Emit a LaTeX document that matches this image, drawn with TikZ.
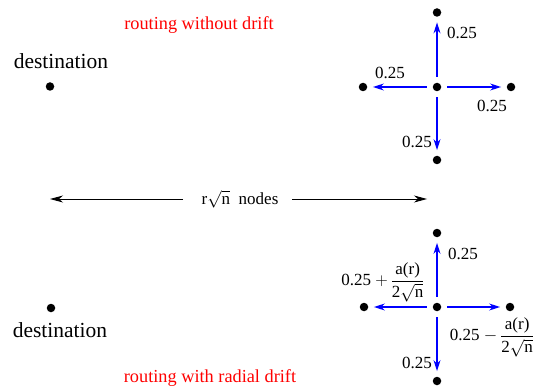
\documentclass[tikz,border=0pt]{standalone}
\usepackage{amsmath}
\usepackage{fontspec}
\setmainfont{Liberation Serif}
\usetikzlibrary{arrows.meta}
\begin{document}
\begin{tikzpicture}[x=1pt,y=-1pt,
  dot/.style={circle,fill=black,inner sep=0pt,minimum size=8.5pt},
  blarrow/.style={draw=blue,line width=1.1pt,-{Stealth[length=11pt,width=7pt,inset=3.5pt]},shorten <=6pt,shorten >=5.5pt},
  bkarrow/.style={draw=black,line width=0.9pt,-{Stealth[length=13pt,width=7pt,inset=4pt]}},
  lbl/.style={inner sep=0pt,font=\fontsize{17}{20}\selectfont},
  dest/.style={inner sep=0pt,font=\fontsize{21.5}{24}\selectfont},
  title/.style={inner sep=0pt,text=red,font=\fontsize{18.3}{20}\selectfont}]
\useasboundingbox (0,0) rectangle (537,387);
% top cluster
\node[dot] (c1) at (437,87) {};
\node[dot] (t1) at (437,12.5) {};
\node[dot] (b1) at (437,160) {};
\node[dot] (l1) at (363,87) {};
\node[dot] (r1) at (511,87) {};
\draw[blarrow] (c1) -- (t1);
\draw[blarrow] (c1) -- (b1);
\draw[blarrow] (c1) -- (l1);
\draw[blarrow] (c1) -- (r1);
\node[lbl] (lt1) at (462,33) {0.25};
\node[lbl] (ll1) at (390,73) {0.25};
\node[lbl] (lr1) at (492,106) {0.25};
\node[lbl] (lb1) at (417,142) {0.25};
% bottom cluster
\node[dot] (c2) at (437,307) {};
\node[dot] (t2) at (437,233) {};
\node[dot] (b2) at (437,381) {};
\node[dot] (l2) at (364,307) {};
\node[dot] (r2) at (510,307) {};
\draw[blarrow] (c2) -- (t2);
\draw[blarrow] (c2) -- (b2);
\draw[blarrow] (c2) -- (l2);
\draw[blarrow] (c2) -- (r2);
\node[lbl] (lt2) at (463,254) {0.25};
\node[lbl] (ll2) at (383,282) {0.25 $+\,\dfrac{\text{a(r)}}{\text{2}\sqrt{\text{n}}}$};
\node[lbl] (lr2) at (492,337) {0.25 $-\,\dfrac{\text{a(r)}}{\text{2}\sqrt{\text{n}}}$};
\node[lbl] (lb2) at (417,363) {0.25};
% destinations
\node[dest] (d1) at (61,61) {destination};
\node[dot] (p1) at (50,86.5) {};
\node[dest] (d2) at (60,330) {destination};
\node[dot] (p2) at (51,308) {};
% titles
\node[title] (ti1) at (199,25) {routing without drift};
\node[title] (ti2) at (210,378) {routing with radial drift};
% middle
\node[lbl] (mid) at (240,199) {r$\sqrt{\text{n}}$\ \ nodes};
\coordinate (ml) at (183,199);
\coordinate (mr) at (292,199);
\coordinate (L) at (50,199);
\coordinate (R) at (427,199);
\draw[bkarrow] (ml) -- (L);
\draw[bkarrow] (mr) -- (R);
\end{tikzpicture}
\end{document}
